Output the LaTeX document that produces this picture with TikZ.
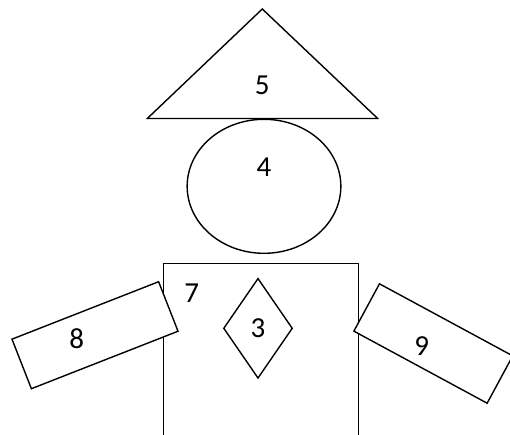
\documentclass[tikz,border=0pt]{standalone}
\usepackage{fontspec}
\setmainfont{Carlito}
\usetikzlibrary{shapes.geometric}

\begin{document}
\begin{tikzpicture}[
  x=1pt, y=-1pt,
  part/.style={draw, line width=1.4pt, fill=white, inner sep=0pt},
  num/.style={font=\fontsize{29}{34}\selectfont, inner sep=0pt},
  arm/.style={part, rectangle}]
\useasboundingbox (0,0) rectangle (510,434);
\begin{scope}
\clip (0,0) rectangle (510,434);
% body, open at the bottom
\node[part, rectangle, minimum width=195pt, minimum height=220pt, anchor=north west] (body) at (163,263) {};
\node[num] (l7) at (191.7,293.3) {7};
\node[part, diamond, minimum width=69pt, minimum height=100pt] (tie) at (258,328.3) {};
\node[num] (l3) at (tie.center) {3};
% head and hat
\node[part, ellipse, minimum width=153.7pt, minimum height=134pt] (head) at (264,186.3) {};
\node[num] (l4) at (264,166.7) {4};
\coordinate (apex) at (262.3,9);
\coordinate (brim r) at (377.7,118.5);
\coordinate (brim l) at (147.3,118.5);
\draw[part] (apex) -- (brim r) -- (brim l) -- cycle;
\node[num] (l5) at (262.3,85) {5};
% arms
\node[arm, rotate=21.4, minimum width=157.5pt, minimum height=53.2pt] (arm l) at (95,335.2) {};
\node[num] (l8) at (76.7,338.3) {8};
\node[arm, rotate=-28.4, minimum width=151.5pt, minimum height=53.8pt] (arm r) at (433.3,343.5) {};
\node[num] (l9) at (421.7,346) {9};
\end{scope}
\end{tikzpicture}
\end{document}
